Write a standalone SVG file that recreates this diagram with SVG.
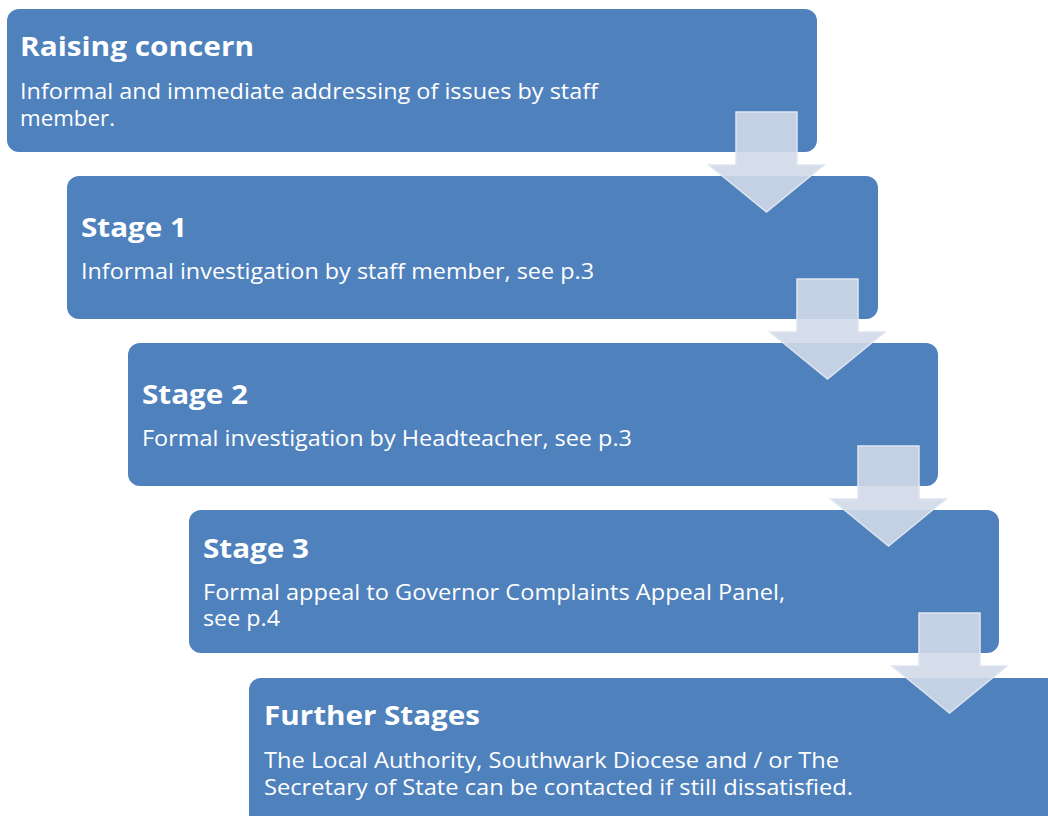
<svg xmlns="http://www.w3.org/2000/svg" width="1048" height="816" viewBox="0 0 1048 816">
<defs>
<style>
.box{fill:#4f81bd;}
.t{fill:#ffffff;font-family:"Open Sans","Noto Sans",sans-serif;font-weight:bold;font-size:27px;}
.b{fill:#ffffff;font-family:"Open Sans","Noto Sans",sans-serif;font-size:21px;}
.arr{fill:#d0d9e8;fill-opacity:0.9;stroke:#dfe5ef;stroke-width:1.5;}
</style>
<path id="arrow" d="M0,0 H61 V53 H88 L30.5,100 L-27,53 H0 Z"/>
</defs>
<rect width="1048" height="816" fill="#ffffff"/>
<g id="node-raising">
<rect class="box" x="7" y="9" width="810" height="143" rx="12"/>
<text class="t" x="20" y="56" textLength="234" lengthAdjust="spacingAndGlyphs">Raising concern</text>
<text class="b" x="20" y="99" textLength="578" lengthAdjust="spacingAndGlyphs">Informal and immediate addressing of issues by staff</text>
<text class="b" x="20" y="126" textLength="95" lengthAdjust="spacingAndGlyphs">member.</text>
</g>
<g id="node-stage1">
<rect class="box" x="67" y="176" width="811" height="143" rx="12"/>
<text class="t" x="81" y="237" textLength="106" lengthAdjust="spacingAndGlyphs">Stage 1</text>
<text class="b" x="81" y="279" textLength="513" lengthAdjust="spacingAndGlyphs">Informal investigation by staff member, see p.3</text>
</g>
<g id="node-stage2">
<rect class="box" x="128" y="343" width="810" height="143" rx="12"/>
<text class="t" x="142" y="404" textLength="106" lengthAdjust="spacingAndGlyphs">Stage 2</text>
<text class="b" x="142" y="446" textLength="490" lengthAdjust="spacingAndGlyphs">Formal investigation by Headteacher, see p.3</text>
</g>
<g id="node-stage3">
<rect class="box" x="189" y="510" width="810" height="143" rx="12"/>
<text class="t" x="203" y="558" textLength="106" lengthAdjust="spacingAndGlyphs">Stage 3</text>
<text class="b" x="203" y="600" textLength="582" lengthAdjust="spacingAndGlyphs">Formal appeal to Governor Complaints Appeal Panel,</text>
<text class="b" x="203" y="626" textLength="77" lengthAdjust="spacingAndGlyphs">see p.4</text>
</g>
<g id="node-further">
<rect class="box" x="249" y="678" width="820" height="160" rx="12"/>
<text class="t" x="264" y="725" textLength="216" lengthAdjust="spacingAndGlyphs">Further Stages</text>
<text class="b" x="264" y="768" textLength="575" lengthAdjust="spacingAndGlyphs">The Local Authority, Southwark Diocese and / or The</text>
<text class="b" x="264" y="795" textLength="589" lengthAdjust="spacingAndGlyphs">Secretary of State can be contacted if still dissatisfied.</text>
</g>
<g id="connectors">
<use href="#arrow" class="arr" x="736" y="112"/>
<use href="#arrow" class="arr" x="797" y="279"/>
<use href="#arrow" class="arr" x="858" y="446"/>
<use href="#arrow" class="arr" x="919" y="613"/>
</g>
</svg>
